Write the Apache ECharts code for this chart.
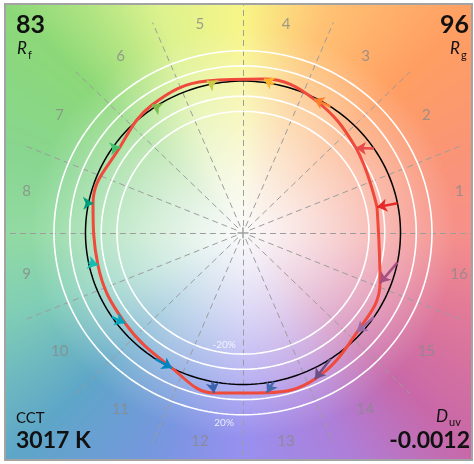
<!DOCTYPE html>
<html><head><meta charset="utf-8">
<script src="https://cdn.jsdelivr.net/npm/echarts@6/dist/echarts.min.js"></script>
<style>html,body{margin:0;padding:0;background:#fff}#c{width:474px;height:464px}</style>
</head><body><div id="c"></div>
<script>
// ---- data ----
const bins = [1,2,3,4,5,6,7,8,9,10,11,12,13,14,15,16];
const binColors = ['#e62828','#e74b4b','#fb812e','#ffb529','#cbca46','#7eb94c','#41c06d','#009c7c',
                   '#16bcb0','#00a4bf','#0085c3','#3b62aa','#4568ae','#6a4e85','#9d69a1','#a74f81'];
// test (normalized) chromaticity positions per hue bin
const testX = [0.851, 0.717, 0.451, 0.133, -0.229, -0.578, -0.781, -0.952, -0.921, -0.749, -0.451, -0.184, 0.152, 0.457, 0.724, 0.870];
const testY = [0.169, 0.558, 0.881, 1.013, 1.000, 0.842, 0.565, 0.196, -0.213, -0.595, -0.892, -1.056, -1.054, -0.964, -0.655, -0.332];
const guideRadii = [0.8, 0.9, 1.1, 1.2];
const refRadius = [1.0];
const pctLabels = ['-20%', '20%'];
const pctLabelX = [-0.12, -0.12];
const pctLabelY = [-0.74, -1.255];
const RfValue = '83', RgValue = '96', CCTValue = '3017 K', DuvValue = '-0.0012';
// background hue anchors (angle in degrees, colour at the outer edge)
const bgAngles = [0, 20, 45, 70, 90, 110, 135, 160, 180, 200, 225, 250, 270, 295, 315, 340, 360];
const bgColors = ['#f6908a','#fa9478','#ff9e62','#ffc274','#f8f588','#dcf28e','#8cd878','#88d690','#92daa2',
                  '#80ceb6','#5ea6c8','#7896e0','#9890f0','#ae7ed8','#c868a8','#e27a98','#f6908a'];

// ---- layout ----
const GRID = {left:5, top:4, width:467, height:456};
const X_RANGE = [-1.511, 1.454];
const Y_RANGE = [-1.498, 1.508];
const D = Math.PI/180;
const FONT = 'Lato';
const binCenter = bins.map(b => (b-0.5)*22.5);
const binEdge = bins.map(b => (b-1)*22.5);

const chart = echarts.init(document.getElementById('c'));

function circleSeries(radii, color, width, z){
  return {
    type:'custom', coordinateSystem:'cartesian2d', z, silent:true, animation:false,
    data: radii.map(r => [0,0,r]),
    encode:{x:0, y:1},
    renderItem(params, api){
      const r = api.value(2);
      const pts = [];
      for (let i=0;i<=240;i++){ const a=i*1.5*D; pts.push(api.coord([r*Math.cos(a), r*Math.sin(a)])); }
      return {type:'polyline', shape:{points:pts}, style:{fill:'none', stroke:color, lineWidth:width}};
    }
  };
}

const option = {
  animation:false,
  grid:{left:GRID.left, top:GRID.top, width:GRID.width, height:GRID.height, show:false},
  xAxis:{type:'value', min:X_RANGE[0], max:X_RANGE[1], show:false},
  yAxis:{type:'value', min:Y_RANGE[0], max:Y_RANGE[1], show:false},
  series:[
    {
      type:'lines', coordinateSystem:'cartesian2d', z:2, silent:true, clip:true,
      symbol:['none','none'],
      data: binEdge.map(a => ({coords:[[0.045*Math.cos(a*D),0.045*Math.sin(a*D)],[1.5*Math.cos(a*D),1.5*Math.sin(a*D)]]})),
      lineStyle:{color:'#9d9d9d', width:1, type:[6,4], opacity:1}
    },
    {
      type:'lines', coordinateSystem:'cartesian2d', z:2, silent:true,
      symbol:['none','none'],
      data:[{coords:[[-0.035,0],[0.035,0]]},{coords:[[0,-0.036],[0,0.036]]}],
      lineStyle:{color:'#a0a0a0', width:1.5, opacity:1}
    },
    circleSeries(guideRadii, '#ffffff', 1.6, 3),
    circleSeries(refRadius, '#000000', 1.5, 4),
    {
      type:'line', z:5, silent:true, symbol:'none', smooth:0.4,
      data: testX.map((x,i)=>[x,testY[i]]).concat([[testX[0],testY[0]]]),
      lineStyle:{color:'#ef4a3b', width:3}
    },
    {
      type:'lines', coordinateSystem:'cartesian2d', z:6, silent:true,
      symbol:['none','arrow'], symbolSize:[0,10],
      data: bins.map((b,i)=>({
        coords:[[Math.cos(binCenter[i]*D), Math.sin(binCenter[i]*D)],[testX[i], testY[i]]],
        lineStyle:{color:binColors[i]}
      })),
      lineStyle:{width:2.5, opacity:1}
    },
    {
      type:'scatter', z:7, silent:true, symbolSize:0,
      data: bins.map((b,i)=>({name:String(b), value:[1.4*Math.cos(binCenter[i]*D), 1.4*Math.sin(binCenter[i]*D)]})),
      label:{show:true, position:'inside', formatter:'{b}', color:'#8a8a8a', fontSize:15, fontFamily:FONT}
    },
    {
      type:'scatter', z:7, silent:true, symbolSize:0,
      data: pctLabels.map((t,i)=>({name:t, value:[pctLabelX[i], pctLabelY[i]]})),
      label:{show:true, position:'inside', formatter:'{b}', color:'#ffffff', fontSize:10, fontFamily:FONT}
    }
  ]
};
chart.setOption(option);

// ---- background hue wheel painted to a canvas, used as an ECharts image element ----
function hex(h){ return [parseInt(h.slice(1,3),16), parseInt(h.slice(3,5),16), parseInt(h.slice(5,7),16)]; }
const bgRGB = bgColors.map(hex);
function hueColor(deg){
  let i=0; while (i < bgAngles.length-2 && deg >= bgAngles[i+1]) i++;
  const f = (deg - bgAngles[i])/(bgAngles[i+1]-bgAngles[i]);
  const a = bgRGB[i], b = bgRGB[i+1];
  return [a[0]+(b[0]-a[0])*f, a[1]+(b[1]-a[1])*f, a[2]+(b[2]-a[2])*f];
}
const c0 = chart.convertToPixel({gridIndex:0},[0,0]);
const c1 = chart.convertToPixel({gridIndex:0},[1,1]);
const sx = c1[0]-c0[0], sy = c0[1]-c1[1];
const cv = document.createElement('canvas');
cv.width = GRID.width; cv.height = GRID.height;
const ctx = cv.getContext('2d');
const img = ctx.createImageData(cv.width, cv.height);
for (let py=0; py<cv.height; py++){
  for (let px=0; px<cv.width; px++){
    const u = (GRID.left+px+0.5 - c0[0])/sx;
    const v = (c0[1] - (GRID.top+py+0.5))/sy;
    const r = Math.sqrt(u*u+v*v);
    let ang = Math.atan2(v,u)/D; if (ang<0) ang+=360;
    const col = hueColor(ang);
    const t = Math.pow(Math.min(1, r/1.35), 1.2);
    const k = (py*cv.width+px)*4;
    img.data[k]   = 250*(1-t)+col[0]*t;
    img.data[k+1] = 250*(1-t)+col[1]*t;
    img.data[k+2] = 250*(1-t)+col[2]*t;
    img.data[k+3] = 255;
  }
}
ctx.putImageData(img,0,0);

const txt = (o) => Object.assign({type:'text', z:30, silent:true}, o);
chart.setOption({
  graphic:{elements:[
    {type:'image', z:0, silent:true, left:GRID.left, top:GRID.top, style:{image:cv, width:GRID.width, height:GRID.height}},
    {type:'rect', z:30, silent:true, shape:{x:GRID.left, y:GRID.top, width:GRID.width, height:GRID.height},
      style:{fill:'none', stroke:'#a3a3a3', lineWidth:2}},
    txt({x:16, y:25, style:{text:RfValue, font:'bold 25px '+FONT, fill:'#111', textVerticalAlign:'middle'}}),
    txt({x:17, y:49, style:{text:'R', font:'italic 17px '+FONT, fill:'#111', textVerticalAlign:'middle'}}),
    txt({x:28, y:55, style:{text:'f', font:'11px '+FONT, fill:'#111', textVerticalAlign:'middle'}}),
    txt({x:469, y:25, style:{text:RgValue, font:'bold 25px '+FONT, fill:'#111', textAlign:'right', textVerticalAlign:'middle'}}),
    txt({x:460, y:49, style:{text:'R', font:'italic 17px '+FONT, fill:'#111', textAlign:'right', textVerticalAlign:'middle'}}),
    txt({x:461, y:55, style:{text:'g', font:'11px '+FONT, fill:'#111', textVerticalAlign:'middle'}}),
    txt({x:16, y:418, style:{text:'CCT', font:'15px '+FONT, fill:'#111', textVerticalAlign:'middle'}}),
    txt({x:16, y:441, style:{text:CCTValue, font:'bold 23px '+FONT, fill:'#111', textVerticalAlign:'middle'}}),
    txt({x:448, y:417, style:{text:'D', font:'italic 17px '+FONT, fill:'#111', textAlign:'right', textVerticalAlign:'middle'}}),
    txt({x:449, y:422, style:{text:'uv', font:'11px '+FONT, fill:'#111', textVerticalAlign:'middle'}}),
    txt({x:470, y:441, style:{text:DuvValue, font:'bold 23px '+FONT, fill:'#111', textAlign:'right', textVerticalAlign:'middle'}})
  ]}
});
</script>
</body></html>
